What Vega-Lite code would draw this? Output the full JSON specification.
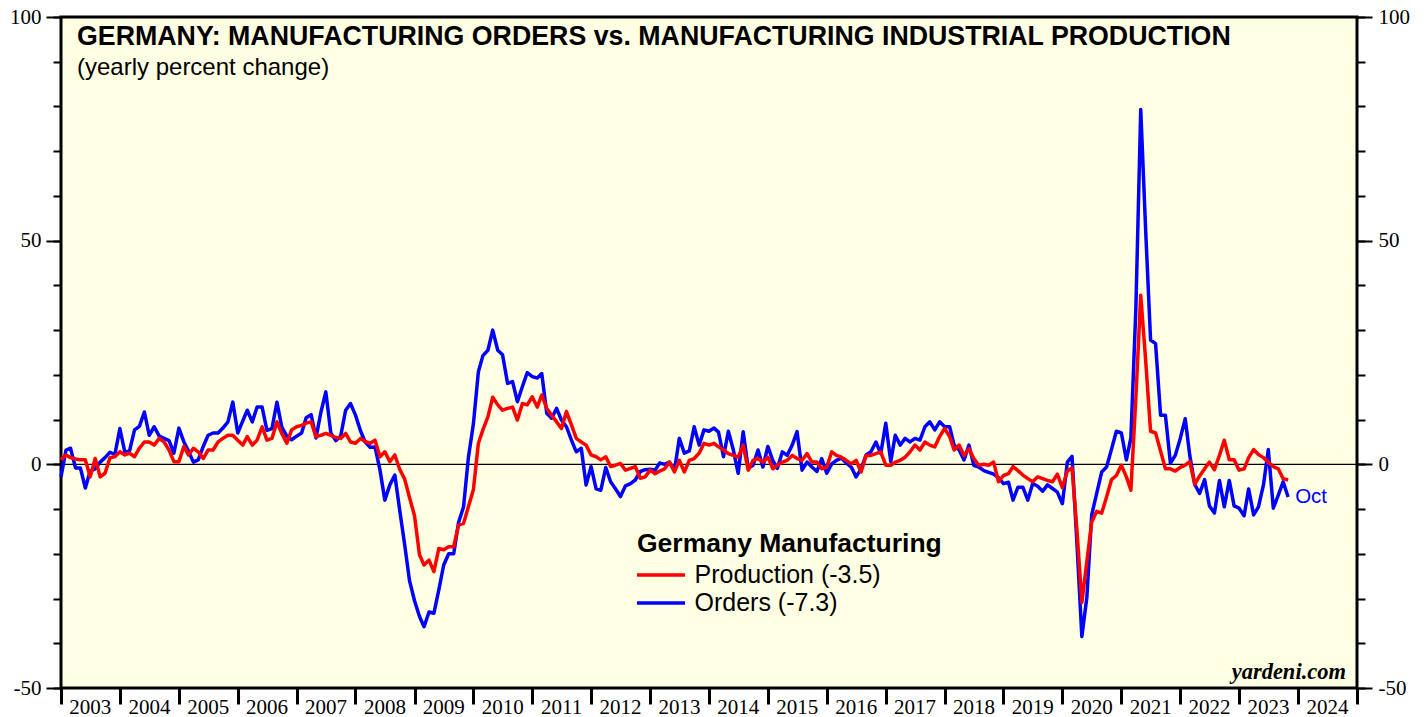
{
  "$schema": "https://vega.github.io/schema/vega-lite/v6.json",
  "width": 1296,
  "height": 671,
  "autosize": {"type": "none"},
  "padding": {"left": 61, "top": 17, "right": 70, "bottom": 29},
  "background": "#ffffff",
  "config": {
    "view": {"stroke": "#000000", "strokeWidth": 3, "fill": "#ffffe4"},
    "axis": {"labelFont": "Liberation Serif", "labelFontSize": 21, "labelColor": "#000000", "tickColor": "#000000", "domain": false, "grid": false, "labelFlush": false, "labelOverlap": false, "labelBound": false},
    "legend": {"orient": "none", "legendX": 576, "legendY": 514, "padding": 0, "titleFont": "Liberation Sans", "titleFontWeight": "bold", "titleFontSize": 26.5, "titleColor": "#000000", "titlePadding": 5, "titleLimit": 600, "labelLimit": 600, "labelFont": "Liberation Sans", "labelFontSize": 25, "labelColor": "#000000", "symbolType": "M-2.4,0H2.4", "symbolSize": 400, "symbolOffset": 11.5, "symbolStrokeWidth": 3.5, "rowPadding": 2, "labelOffset": 21}
  },
  "datasets": {
    "years": [
      {"label":"2003","mid":"2003-07-02"},{"label":"2004","mid":"2004-07-02"},{"label":"2005","mid":"2005-07-02"},{"label":"2006","mid":"2006-07-02"},
      {"label":"2007","mid":"2007-07-02"},{"label":"2008","mid":"2008-07-02"},{"label":"2009","mid":"2009-07-02"},{"label":"2010","mid":"2010-07-02"},
      {"label":"2011","mid":"2011-07-02"},{"label":"2012","mid":"2012-07-02"},{"label":"2013","mid":"2013-07-02"},{"label":"2014","mid":"2014-07-02"},
      {"label":"2015","mid":"2015-07-02"},{"label":"2016","mid":"2016-07-02"},{"label":"2017","mid":"2017-07-02"},{"label":"2018","mid":"2018-07-02"},
      {"label":"2019","mid":"2019-07-02"},{"label":"2020","mid":"2020-07-02"},{"label":"2021","mid":"2021-07-02"},{"label":"2022","mid":"2022-07-02"},
      {"label":"2023","mid":"2023-07-02"},{"label":"2024","mid":"2024-07-02"}
    ],
    "m": [
      {"date":"2003-01-01","Production":1,"Orders":-2.8},
      {"date":"2003-02-01","Production":2.1,"Orders":3.2},
      {"date":"2003-03-01","Production":1.5,"Orders":3.6},
      {"date":"2003-04-01","Production":1.2,"Orders":-0.8},
      {"date":"2003-05-01","Production":1,"Orders":-0.8},
      {"date":"2003-06-01","Production":1,"Orders":-5.3},
      {"date":"2003-07-01","Production":-2.8,"Orders":-1.5},
      {"date":"2003-08-01","Production":1.3,"Orders":-1},
      {"date":"2003-09-01","Production":-2.8,"Orders":0.5},
      {"date":"2003-10-01","Production":-2,"Orders":1.5},
      {"date":"2003-11-01","Production":1.5,"Orders":2.7},
      {"date":"2003-12-01","Production":1.7,"Orders":2.2},
      {"date":"2004-01-01","Production":2.8,"Orders":8},
      {"date":"2004-02-01","Production":2.1,"Orders":2.7},
      {"date":"2004-03-01","Production":2.5,"Orders":3},
      {"date":"2004-04-01","Production":1.7,"Orders":7.7},
      {"date":"2004-05-01","Production":3.6,"Orders":8.5},
      {"date":"2004-06-01","Production":5,"Orders":11.7},
      {"date":"2004-07-01","Production":5,"Orders":6.5},
      {"date":"2004-08-01","Production":4.3,"Orders":8.4},
      {"date":"2004-09-01","Production":5.8,"Orders":6.3},
      {"date":"2004-10-01","Production":5,"Orders":5.8},
      {"date":"2004-11-01","Production":3.2,"Orders":5.3},
      {"date":"2004-12-01","Production":0.6,"Orders":2.5},
      {"date":"2005-01-01","Production":0.6,"Orders":8.1},
      {"date":"2005-02-01","Production":4,"Orders":5},
      {"date":"2005-03-01","Production":2.1,"Orders":3},
      {"date":"2005-04-01","Production":3.6,"Orders":0.5},
      {"date":"2005-05-01","Production":2.8,"Orders":1},
      {"date":"2005-06-01","Production":1.3,"Orders":4},
      {"date":"2005-07-01","Production":3.2,"Orders":6.5},
      {"date":"2005-08-01","Production":3.2,"Orders":7},
      {"date":"2005-09-01","Production":5,"Orders":7},
      {"date":"2005-10-01","Production":5.8,"Orders":8.1},
      {"date":"2005-11-01","Production":6.5,"Orders":9.5},
      {"date":"2005-12-01","Production":6.5,"Orders":13.9},
      {"date":"2006-01-01","Production":5.4,"Orders":7},
      {"date":"2006-02-01","Production":4.3,"Orders":9.7},
      {"date":"2006-03-01","Production":6.2,"Orders":12.1},
      {"date":"2006-04-01","Production":4.3,"Orders":9.5},
      {"date":"2006-05-01","Production":5.4,"Orders":12.8},
      {"date":"2006-06-01","Production":8.4,"Orders":12.8},
      {"date":"2006-07-01","Production":5.4,"Orders":7.6},
      {"date":"2006-08-01","Production":5.8,"Orders":8},
      {"date":"2006-09-01","Production":9.5,"Orders":13.9},
      {"date":"2006-10-01","Production":6.9,"Orders":8.3},
      {"date":"2006-11-01","Production":4.7,"Orders":6.3},
      {"date":"2006-12-01","Production":7.7,"Orders":5.5},
      {"date":"2007-01-01","Production":8.4,"Orders":6.3},
      {"date":"2007-02-01","Production":8.7,"Orders":7},
      {"date":"2007-03-01","Production":9.2,"Orders":10.4},
      {"date":"2007-04-01","Production":9.5,"Orders":11.1},
      {"date":"2007-05-01","Production":6.2,"Orders":5.9},
      {"date":"2007-06-01","Production":6.5,"Orders":11.7},
      {"date":"2007-07-01","Production":6.9,"Orders":16.2},
      {"date":"2007-08-01","Production":6.5,"Orders":7},
      {"date":"2007-09-01","Production":6,"Orders":5.3},
      {"date":"2007-10-01","Production":5.8,"Orders":6.3},
      {"date":"2007-11-01","Production":6.9,"Orders":12.1},
      {"date":"2007-12-01","Production":5,"Orders":13.6},
      {"date":"2008-01-01","Production":4.7,"Orders":11},
      {"date":"2008-02-01","Production":5.8,"Orders":7.5},
      {"date":"2008-03-01","Production":5.1,"Orders":5},
      {"date":"2008-04-01","Production":4.7,"Orders":3.8},
      {"date":"2008-05-01","Production":5.4,"Orders":3.9},
      {"date":"2008-06-01","Production":1.7,"Orders":-1.3},
      {"date":"2008-07-01","Production":2.8,"Orders":-8},
      {"date":"2008-08-01","Production":0.6,"Orders":-4.6},
      {"date":"2008-09-01","Production":2.1,"Orders":-2.4},
      {"date":"2008-10-01","Production":-1.1,"Orders":-10.2},
      {"date":"2008-11-01","Production":-3.3,"Orders":-18},
      {"date":"2008-12-01","Production":-7.4,"Orders":-26},
      {"date":"2009-01-01","Production":-11.5,"Orders":-30.5},
      {"date":"2009-02-01","Production":-20.2,"Orders":-34},
      {"date":"2009-03-01","Production":-22.5,"Orders":-36.3},
      {"date":"2009-04-01","Production":-21.4,"Orders":-33},
      {"date":"2009-05-01","Production":-24,"Orders":-33.3},
      {"date":"2009-06-01","Production":-18.8,"Orders":-28},
      {"date":"2009-07-01","Production":-19.1,"Orders":-22.5},
      {"date":"2009-08-01","Production":-18.4,"Orders":-20},
      {"date":"2009-09-01","Production":-18.4,"Orders":-20},
      {"date":"2009-10-01","Production":-13.6,"Orders":-13},
      {"date":"2009-11-01","Production":-13.2,"Orders":-9.5},
      {"date":"2009-12-01","Production":-9.5,"Orders":1.5},
      {"date":"2010-01-01","Production":-5.7,"Orders":9},
      {"date":"2010-02-01","Production":4.7,"Orders":20.7},
      {"date":"2010-03-01","Production":7.7,"Orders":24.3},
      {"date":"2010-04-01","Production":10.6,"Orders":25.5},
      {"date":"2010-05-01","Production":15,"Orders":30},
      {"date":"2010-06-01","Production":13.3,"Orders":25.5},
      {"date":"2010-07-01","Production":12.1,"Orders":24.5},
      {"date":"2010-08-01","Production":12.5,"Orders":18.1},
      {"date":"2010-09-01","Production":12.8,"Orders":18.5},
      {"date":"2010-10-01","Production":9.9,"Orders":14},
      {"date":"2010-11-01","Production":13.6,"Orders":17.4},
      {"date":"2010-12-01","Production":13.3,"Orders":20.5},
      {"date":"2011-01-01","Production":15.1,"Orders":19.6},
      {"date":"2011-02-01","Production":12.8,"Orders":19.3},
      {"date":"2011-03-01","Production":15.5,"Orders":20.3},
      {"date":"2011-04-01","Production":12.5,"Orders":11.4},
      {"date":"2011-05-01","Production":11,"Orders":10.3},
      {"date":"2011-06-01","Production":9.5,"Orders":12.5},
      {"date":"2011-07-01","Production":8,"Orders":9.9},
      {"date":"2011-08-01","Production":11.8,"Orders":8.4},
      {"date":"2011-09-01","Production":8.8,"Orders":5.4},
      {"date":"2011-10-01","Production":5.8,"Orders":2.8},
      {"date":"2011-11-01","Production":5,"Orders":3.6},
      {"date":"2011-12-01","Production":4.3,"Orders":-4.6},
      {"date":"2012-01-01","Production":2.1,"Orders":-0.5},
      {"date":"2012-02-01","Production":1.7,"Orders":-5.5},
      {"date":"2012-03-01","Production":1,"Orders":-5.8},
      {"date":"2012-04-01","Production":1.7,"Orders":-0.7},
      {"date":"2012-05-01","Production":-0.5,"Orders":-3.9},
      {"date":"2012-06-01","Production":-0.2,"Orders":-5.5},
      {"date":"2012-07-01","Production":0.2,"Orders":-7.2},
      {"date":"2012-08-01","Production":-1.3,"Orders":-4.8},
      {"date":"2012-09-01","Production":-0.9,"Orders":-4.3},
      {"date":"2012-10-01","Production":-0.5,"Orders":-3.5},
      {"date":"2012-11-01","Production":-3.1,"Orders":-1.6},
      {"date":"2012-12-01","Production":-2.8,"Orders":-1.2},
      {"date":"2013-01-01","Production":-1.3,"Orders":-1.1},
      {"date":"2013-02-01","Production":-2.1,"Orders":-1.3},
      {"date":"2013-03-01","Production":-1.5,"Orders":0.3},
      {"date":"2013-04-01","Production":-1,"Orders":0},
      {"date":"2013-05-01","Production":0.5,"Orders":0.5},
      {"date":"2013-06-01","Production":-1.7,"Orders":-1.3},
      {"date":"2013-07-01","Production":0.9,"Orders":5.8},
      {"date":"2013-08-01","Production":-1.7,"Orders":2.5},
      {"date":"2013-09-01","Production":0.9,"Orders":3},
      {"date":"2013-10-01","Production":1.3,"Orders":8.4},
      {"date":"2013-11-01","Production":2.5,"Orders":4.3},
      {"date":"2013-12-01","Production":4.7,"Orders":7.7},
      {"date":"2014-01-01","Production":4.3,"Orders":7.4},
      {"date":"2014-02-01","Production":4.7,"Orders":8.1},
      {"date":"2014-03-01","Production":3.9,"Orders":7.2},
      {"date":"2014-04-01","Production":3.2,"Orders":1.7},
      {"date":"2014-05-01","Production":2.4,"Orders":7.4},
      {"date":"2014-06-01","Production":2,"Orders":3.2},
      {"date":"2014-07-01","Production":1.6,"Orders":-2},
      {"date":"2014-08-01","Production":4.3,"Orders":7.3},
      {"date":"2014-09-01","Production":-1.3,"Orders":-0.9},
      {"date":"2014-10-01","Production":0.9,"Orders":-0.2},
      {"date":"2014-11-01","Production":1.3,"Orders":3.2},
      {"date":"2014-12-01","Production":0.5,"Orders":-0.6},
      {"date":"2015-01-01","Production":1.6,"Orders":4},
      {"date":"2015-02-01","Production":-1,"Orders":0.8},
      {"date":"2015-03-01","Production":-0.2,"Orders":-0.9},
      {"date":"2015-04-01","Production":0.5,"Orders":2.8},
      {"date":"2015-05-01","Production":0.9,"Orders":2},
      {"date":"2015-06-01","Production":2,"Orders":4.3},
      {"date":"2015-07-01","Production":1.3,"Orders":7.3},
      {"date":"2015-08-01","Production":0.9,"Orders":-1.3},
      {"date":"2015-09-01","Production":2.4,"Orders":0.5},
      {"date":"2015-10-01","Production":0.5,"Orders":-0.6},
      {"date":"2015-11-01","Production":0.5,"Orders":-1.6},
      {"date":"2015-12-01","Production":-1,"Orders":1.3},
      {"date":"2016-01-01","Production":-0.6,"Orders":-2},
      {"date":"2016-02-01","Production":2.8,"Orders":0.1},
      {"date":"2016-03-01","Production":2,"Orders":0.9},
      {"date":"2016-04-01","Production":1.6,"Orders":1.4},
      {"date":"2016-05-01","Production":0.9,"Orders":0.3},
      {"date":"2016-06-01","Production":0.1,"Orders":-0.6},
      {"date":"2016-07-01","Production":0.9,"Orders":-2.8},
      {"date":"2016-08-01","Production":-1.7,"Orders":-1},
      {"date":"2016-09-01","Production":2,"Orders":2.1},
      {"date":"2016-10-01","Production":2,"Orders":2.8},
      {"date":"2016-11-01","Production":2.4,"Orders":5},
      {"date":"2016-12-01","Production":2.8,"Orders":2.4},
      {"date":"2017-01-01","Production":-0.2,"Orders":9.2},
      {"date":"2017-02-01","Production":-0.2,"Orders":0.6},
      {"date":"2017-03-01","Production":0.5,"Orders":6.5},
      {"date":"2017-04-01","Production":0.9,"Orders":4.3},
      {"date":"2017-05-01","Production":1.6,"Orders":5.8},
      {"date":"2017-06-01","Production":2.8,"Orders":5},
      {"date":"2017-07-01","Production":4.3,"Orders":5.8},
      {"date":"2017-08-01","Production":3.2,"Orders":5.4},
      {"date":"2017-09-01","Production":5,"Orders":8.4},
      {"date":"2017-10-01","Production":4.3,"Orders":9.5},
      {"date":"2017-11-01","Production":3.9,"Orders":7.7},
      {"date":"2017-12-01","Production":6.2,"Orders":9.5},
      {"date":"2018-01-01","Production":8,"Orders":8.4},
      {"date":"2018-02-01","Production":6.2,"Orders":8.4},
      {"date":"2018-03-01","Production":3.2,"Orders":4.3},
      {"date":"2018-04-01","Production":4.3,"Orders":3.2},
      {"date":"2018-05-01","Production":2,"Orders":1},
      {"date":"2018-06-01","Production":3.5,"Orders":4.3},
      {"date":"2018-07-01","Production":1.3,"Orders":-0.2},
      {"date":"2018-08-01","Production":-0.2,"Orders":-0.6},
      {"date":"2018-09-01","Production":0,"Orders":-1.4},
      {"date":"2018-10-01","Production":-0.2,"Orders":-1.8},
      {"date":"2018-11-01","Production":0.5,"Orders":-2.2},
      {"date":"2018-12-01","Production":-3.9,"Orders":-3},
      {"date":"2019-01-01","Production":-2.5,"Orders":-4.3},
      {"date":"2019-02-01","Production":-2.1,"Orders":-4},
      {"date":"2019-03-01","Production":-0.5,"Orders":-8},
      {"date":"2019-04-01","Production":-1.4,"Orders":-5.1},
      {"date":"2019-05-01","Production":-2.4,"Orders":-5.1},
      {"date":"2019-06-01","Production":-3.2,"Orders":-8},
      {"date":"2019-07-01","Production":-3.9,"Orders":-4.3},
      {"date":"2019-08-01","Production":-2.8,"Orders":-4.9},
      {"date":"2019-09-01","Production":-3.2,"Orders":-6},
      {"date":"2019-10-01","Production":-3.6,"Orders":-4.6},
      {"date":"2019-11-01","Production":-3.9,"Orders":-5.4},
      {"date":"2019-12-01","Production":-2.2,"Orders":-6.2},
      {"date":"2020-01-01","Production":-5.2,"Orders":-8.8},
      {"date":"2020-02-01","Production":-1.5,"Orders":0.5},
      {"date":"2020-03-01","Production":-0.8,"Orders":1.8},
      {"date":"2020-04-01","Production":-15,"Orders":-18},
      {"date":"2020-05-01","Production":-30.9,"Orders":-38.5},
      {"date":"2020-06-01","Production":-21.7,"Orders":-29.7},
      {"date":"2020-07-01","Production":-12.9,"Orders":-11.3},
      {"date":"2020-08-01","Production":-10.5,"Orders":-6.5},
      {"date":"2020-09-01","Production":-10.9,"Orders":-1.7},
      {"date":"2020-10-01","Production":-7.3,"Orders":-0.6},
      {"date":"2020-11-01","Production":-3.4,"Orders":3.4},
      {"date":"2020-12-01","Production":-2.5,"Orders":7.4},
      {"date":"2021-01-01","Production":-0.2,"Orders":7},
      {"date":"2021-02-01","Production":-2.8,"Orders":1},
      {"date":"2021-03-01","Production":-5.8,"Orders":5.9},
      {"date":"2021-04-01","Production":15,"Orders":35},
      {"date":"2021-05-01","Production":37.8,"Orders":79.3},
      {"date":"2021-06-01","Production":23,"Orders":52},
      {"date":"2021-07-01","Production":7.4,"Orders":27.8},
      {"date":"2021-08-01","Production":7,"Orders":27},
      {"date":"2021-09-01","Production":3,"Orders":11},
      {"date":"2021-10-01","Production":-1,"Orders":11},
      {"date":"2021-11-01","Production":-1,"Orders":0.2},
      {"date":"2021-12-01","Production":-1.5,"Orders":2},
      {"date":"2022-01-01","Production":-0.7,"Orders":5.8},
      {"date":"2022-02-01","Production":-0.2,"Orders":10.2},
      {"date":"2022-03-01","Production":0.6,"Orders":2},
      {"date":"2022-04-01","Production":-4.5,"Orders":-4.5},
      {"date":"2022-05-01","Production":-2.6,"Orders":-6.5},
      {"date":"2022-06-01","Production":-1,"Orders":-3.4},
      {"date":"2022-07-01","Production":0.5,"Orders":-9.3},
      {"date":"2022-08-01","Production":-1.2,"Orders":-10.9},
      {"date":"2022-09-01","Production":2,"Orders":-3.6},
      {"date":"2022-10-01","Production":5.4,"Orders":-9.5},
      {"date":"2022-11-01","Production":1,"Orders":-3.6},
      {"date":"2022-12-01","Production":1,"Orders":-9.3},
      {"date":"2023-01-01","Production":-1.3,"Orders":-9.8},
      {"date":"2023-02-01","Production":-1,"Orders":-11.5},
      {"date":"2023-03-01","Production":1.5,"Orders":-5.5},
      {"date":"2023-04-01","Production":3.3,"Orders":-11.3},
      {"date":"2023-05-01","Production":2.2,"Orders":-9.5},
      {"date":"2023-06-01","Production":1.5,"Orders":-4.6},
      {"date":"2023-07-01","Production":0.5,"Orders":3.3},
      {"date":"2023-08-01","Production":-0.5,"Orders":-9.8},
      {"date":"2023-09-01","Production":-1,"Orders":-6.9},
      {"date":"2023-10-01","Production":-3.2,"Orders":-3.9},
      {"date":"2023-11-01","Production":-3.5,"Orders":-7.3}
    ]
  },
  "layer": [
    {
      "data": {"values": [{}]},
      "mark": {"type": "rule", "color": "#000000", "strokeWidth": 1.3},
      "encoding": {
        "y": {"datum": 0, "type": "quantitative", "scale": {"domain": [-50, 100], "nice": false, "zero": false}, "axis": null}
      }
    },
    {
      "data": {"name": "m"},
      "mark": {"type": "line", "strokeWidth": 3.5, "strokeJoin": "round"},
      "encoding": {
        "x": {"field": "date", "type": "temporal", "title": null, "scale": {"type": "utc", "domain": [{"year": 2003, "utc": true}, {"year": 2025, "utc": true}]},
          "axis": {"orient": "bottom", "title": null, "labels": false, "values": [{"year": 2003, "utc": true}, {"year": 2004, "utc": true}, {"year": 2005, "utc": true}, {"year": 2006, "utc": true}, {"year": 2007, "utc": true}, {"year": 2008, "utc": true}, {"year": 2009, "utc": true}, {"year": 2010, "utc": true}, {"year": 2011, "utc": true}, {"year": 2012, "utc": true}, {"year": 2013, "utc": true}, {"year": 2014, "utc": true}, {"year": 2015, "utc": true}, {"year": 2016, "utc": true}, {"year": 2017, "utc": true}, {"year": 2018, "utc": true}, {"year": 2019, "utc": true}, {"year": 2020, "utc": true}, {"year": 2021, "utc": true}, {"year": 2022, "utc": true}, {"year": 2023, "utc": true}, {"year": 2024, "utc": true}, {"year": 2025, "utc": true}],
            "tickSize": 16, "tickWidth": 3}},
        "y": {"field": "Orders", "type": "quantitative", "scale": {"domain": [-50, 100], "nice": false, "zero": false},
          "axis": {"orient": "left", "title": null, "values": [-50, 0, 50, 100], "tickSize": 15, "tickWidth": 2, "labelPadding": 5, "labelExpr": "'' + datum.value"}},
        "color": {"datum": "Orders", "type": "nominal", "scale": {"domain": ["Production", "Orders"], "range": ["#ff0000", "#0000ff"]},
          "legend": {"title": "Germany Manufacturing", "labelExpr": "datum.label == 'Production' ? 'Production (-3.5)' : 'Orders (-7.3)'"}}
      }
    },
    {
      "data": {"name": "m"},
      "mark": {"type": "line", "strokeWidth": 3.5, "strokeJoin": "round"},
      "encoding": {
        "x": {"field": "date", "type": "temporal", "title": null, "scale": {"type": "utc", "domain": [{"year": 2003, "utc": true}, {"year": 2025, "utc": true}]}},
        "y": {"field": "Production", "type": "quantitative", "scale": {"domain": [-50, 100], "nice": false, "zero": false},
          "axis": {"orient": "left", "title": null, "values": [-50, -40, -30, -20, -10, 0, 10, 20, 30, 40, 50, 60, 70, 80, 90, 100], "tickSize": 8, "tickWidth": 2, "labels": false}},
        "color": {"datum": "Production", "type": "nominal", "scale": {"domain": ["Production", "Orders"], "range": ["#ff0000", "#0000ff"]},
          "legend": {"title": "Germany Manufacturing", "labelExpr": "datum.label == 'Production' ? 'Production (-3.5)' : 'Orders (-7.3)'"}}
      }
    },
    {
      "data": {"name": "m"},
      "mark": {"type": "line", "opacity": 0},
      "encoding": {
        "x": {"field": "date", "type": "temporal", "title": null, "scale": {"type": "utc", "domain": [{"year": 2003, "utc": true}, {"year": 2025, "utc": true}]}},
        "y": {"field": "Orders", "type": "quantitative", "scale": {"domain": [-50, 100], "nice": false, "zero": false},
          "axis": {"orient": "right", "title": null, "values": [-50, 0, 50, 100], "tickSize": 15, "tickWidth": 2, "labelPadding": 6, "labelExpr": "'' + datum.value"}}
      }
    },
    {
      "data": {"name": "m"},
      "mark": {"type": "line", "opacity": 0},
      "encoding": {
        "x": {"field": "date", "type": "temporal", "title": null, "scale": {"type": "utc", "domain": [{"year": 2003, "utc": true}, {"year": 2025, "utc": true}]}},
        "y": {"field": "Production", "type": "quantitative", "scale": {"domain": [-50, 100], "nice": false, "zero": false},
          "axis": {"orient": "right", "title": null, "values": [-50, -40, -30, -20, -10, 0, 10, 20, 30, 40, 50, 60, 70, 80, 90, 100], "tickSize": 8, "tickWidth": 2, "labels": false}}
      }
    },
    {
      "data": {"name": "years"},
      "mark": {"type": "text", "font": "Liberation Serif", "fontSize": 21, "align": "center", "baseline": "alphabetic", "dy": 26, "color": "#000000"},
      "encoding": {
        "x": {"field": "mid", "type": "temporal", "title": null, "scale": {"type": "utc", "domain": [{"year": 2003, "utc": true}, {"year": 2025, "utc": true}]}},
        "y": {"datum": -50, "type": "quantitative", "scale": {"domain": [-50, 100], "nice": false, "zero": false}, "axis": null},
        "text": {"field": "label", "type": "nominal"}
      }
    },
    {
      "data": {"values": [{}]},
      "mark": {"type": "text", "text": "GERMANY: MANUFACTURING ORDERS vs. MANUFACTURING INDUSTRIAL PRODUCTION", "font": "Liberation Sans", "fontWeight": "bold", "fontSize": 26.75, "align": "left", "baseline": "alphabetic", "dx": 16, "dy": 28, "color": "#000000"},
      "encoding": {
        "x": {"datum": {"year": 2003, "utc": true}, "type": "temporal", "title": null, "scale": {"type": "utc", "domain": [{"year": 2003, "utc": true}, {"year": 2025, "utc": true}]}},
        "y": {"datum": 100, "type": "quantitative", "scale": {"domain": [-50, 100], "nice": false, "zero": false}, "axis": null}
      }
    },
    {
      "data": {"values": [{}]},
      "mark": {"type": "text", "text": "(yearly percent change)", "font": "Liberation Sans", "fontSize": 24, "align": "left", "baseline": "alphabetic", "dx": 16, "dy": 58, "color": "#000000"},
      "encoding": {
        "x": {"datum": {"year": 2003, "utc": true}, "type": "temporal", "title": null, "scale": {"type": "utc", "domain": [{"year": 2003, "utc": true}, {"year": 2025, "utc": true}]}},
        "y": {"datum": 100, "type": "quantitative", "scale": {"domain": [-50, 100], "nice": false, "zero": false}, "axis": null}
      }
    },
    {
      "data": {"values": [{}]},
      "mark": {"type": "text", "text": "Oct", "font": "Liberation Sans", "fontSize": 20.5, "align": "left", "baseline": "middle", "dx": 7, "color": "#0000ff"},
      "encoding": {
        "x": {"datum": {"year": 2023, "month": 11, "date": 1, "utc": true}, "type": "temporal", "title": null, "scale": {"type": "utc", "domain": [{"year": 2003, "utc": true}, {"year": 2025, "utc": true}]}},
        "y": {"datum": -7.3, "type": "quantitative", "scale": {"domain": [-50, 100], "nice": false, "zero": false}, "axis": null}
      }
    },
    {
      "data": {"values": [{}]},
      "mark": {"type": "text", "text": "yardeni.com", "font": "Liberation Serif", "fontStyle": "italic", "fontWeight": "bold", "fontSize": 22.5, "align": "right", "baseline": "alphabetic", "dx": -11, "dy": -9, "color": "#000000"},
      "encoding": {
        "x": {"datum": {"year": 2025, "utc": true}, "type": "temporal", "title": null, "scale": {"type": "utc", "domain": [{"year": 2003, "utc": true}, {"year": 2025, "utc": true}]}},
        "y": {"datum": -50, "type": "quantitative", "scale": {"domain": [-50, 100], "nice": false, "zero": false}, "axis": null}
      }
    }
  ],
  "resolve": {"axis": {"y": "independent"}}
}
